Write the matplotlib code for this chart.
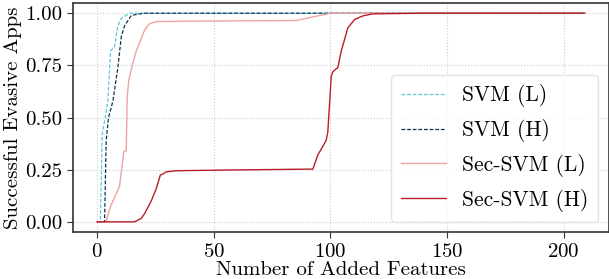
import numpy as np
import matplotlib
matplotlib.use("Agg")
import matplotlib.pyplot as plt

# data
svm_l_x = [0, 1.4, 2.2, 3.5, 4.6, 5.8, 7.5, 8.9, 10.4, 14, 20, 209]
svm_l_y = [0, 0, 0.42, 0.50, 0.58, 0.82, 0.84, 0.94, 0.976, 1.0, 1.0, 1.0]

svm_h_x = [0, 3.2, 3.9, 4.9, 6.8, 8.9, 10.4, 11.8, 14.7, 20, 209]
svm_h_y = [0, 0, 0.39, 0.50, 0.58, 0.74, 0.89, 0.94, 0.99, 1.0, 1.0]

sec_l_x = [0, 3.9, 5.4, 6.8, 9.6, 11.5, 12.5, 12.9, 13.6, 15.3, 16.8, 17.9,
           20.4, 22.5, 25.4, 40, 85.4, 100, 209]
sec_l_y = [0, 0, 0.064, 0.10, 0.17, 0.34, 0.34, 0.60, 0.68, 0.76, 0.82, 0.85,
           0.92, 0.95, 0.96, 0.962, 0.965, 1.0, 1.0]

sec_h_x = [0, 16, 18.9, 20.4, 23.2, 25.4, 27.1, 28.3, 29.7, 34, 52.5, 92.5,
           94.6, 98.2, 98.9, 100.4, 101.1, 103.2, 104.7, 107.5, 110.4, 113.9,
           118.2, 140, 209]
sec_h_y = [0, 0, 0.016, 0.04, 0.10, 0.16, 0.224, 0.23, 0.24, 0.245, 0.248, 0.253,
           0.32, 0.39, 0.43, 0.70, 0.72, 0.74, 0.82, 0.93, 0.97, 0.987,
           0.997, 1.0, 1.0]

plt.rcParams['font.family'] = 'serif'
plt.rcParams['font.serif'] = ['cmr10']
plt.rcParams['mathtext.fontset'] = 'cm'
plt.rcParams['axes.formatter.use_mathtext'] = True
plt.rcParams['axes.unicode_minus'] = False

fig = plt.figure(figsize=(6.09, 2.79), dpi=100)
ax = fig.add_axes([0.1194, 0.1674, 0.8806, 0.8226])

ax.plot(svm_l_x, svm_l_y, '--', color='#5cc8dc', lw=0.9, dashes=(3, 1.5), label='SVM (L)')
ax.plot(svm_h_x, svm_h_y, '--', color='#0c3448', lw=0.9, dashes=(3, 1.5), label='SVM (H)')
ax.plot(sec_l_x, sec_l_y, '-', color='#f0a3a3', lw=1.0, label='Sec-SVM (L)')
ax.plot(sec_h_x, sec_h_y, '-', color='#b81e2a', lw=1.0, label='Sec-SVM (H)')

ax.set_xticks([0, 50, 100, 150, 200])
ax.set_yticks([0, 0.25, 0.5, 0.75, 1.0])
ax.set_yticklabels(['0.00', '0.25', '0.50', '0.75', '1.00'])
ax.tick_params(labelsize=15, color='#333333', length=4)
ax.grid(True, linestyle=':', color='#cccccc', lw=0.8)
for s in ax.spines.values():
    s.set_color('#333333')
    s.set_linewidth(1.2)

ax.set_xlabel('Number of Added Features', fontsize=15, labelpad=0)
ax.set_ylabel('Successful Evasive Apps', fontsize=15, labelpad=2)
ax.legend(loc='lower right', fontsize=15.5, handlelength=2.1, handletextpad=0.75,
          labelspacing=0.55, borderpad=0.45, borderaxespad=0.5, edgecolor='#dddddd')

fig.savefig('out.png', dpi=100)
